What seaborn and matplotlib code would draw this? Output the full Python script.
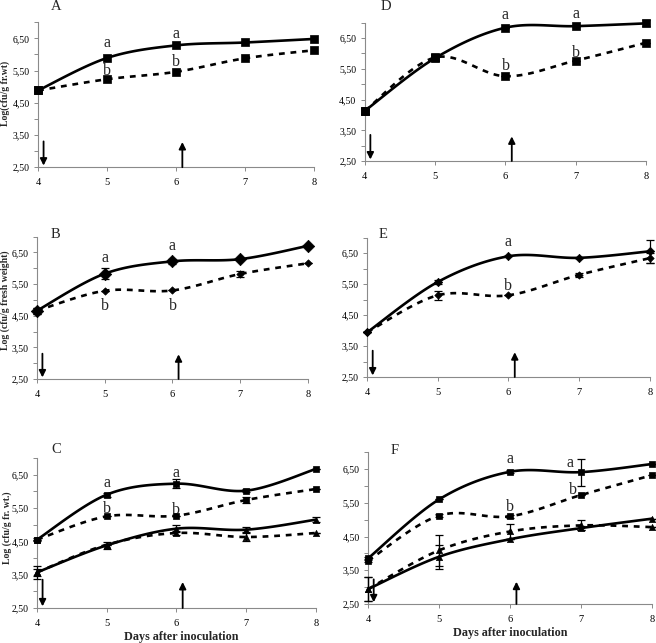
import numpy as np
import pandas as pd
import matplotlib
matplotlib.use("Agg")
import matplotlib.pyplot as plt
import seaborn as sns

sns.set_theme(style="white")
plt.rcParams['font.family'] = ['Liberation Serif', 'DejaVu Serif']

days = [4, 5, 6, 7, 8]
ytick_vals = [2.5, 3.0, 3.5, 4.0, 4.5, 5.0, 5.5, 6.0, 6.5, 7.0]
ytick_labels = ["2,50", "", "3,50", "", "4,50", "", "5,50", "", "6,50", ""]

# Panel A
A_solid = [4.88, 5.89, 6.28, 6.37, 6.48]
A_dash = [4.88, 5.23, 5.46, 5.88, 6.13]
# Panel D
D_solid = [4.13, 5.85, 6.84, 6.89, 6.98]
D_solid_err = [0.10, 0.10, 0.0, 0.0, 0.10]
D_dash = [4.13, 5.87, 5.26, 5.77, 6.35]
D_dash_err = [0.10, 0.12, 0.0, 0.0, 0.0]
# Panel B
B_solid = [4.66, 5.83, 6.22, 6.29, 6.71]
B_solid_err = [0.10, 0.17, 0.07, 0.0, 0.0]
B_dash = [4.66, 5.29, 5.30, 5.82, 6.16]
B_dash_err = [0.10, 0.0, 0.0, 0.10, 0.0]
# Panel E
E_solid = [3.94, 5.57, 6.40, 6.35, 6.56]
E_solid_err = [0.0, 0.05, 0.0, 0.0, 0.38]
E_dash = [3.94, 5.14, 5.14, 5.80, 6.34]
E_dash_err = [0.0, 0.14, 0.0, 0.07, 0.17]
# Panel C
C_solid_hi = [4.55, 5.90, 6.23, 6.02, 6.67]
C_solid_hi_err = [0.05, 0.06, 0.13, 0.04, 0.0]
C_dash_hi = [4.55, 5.25, 5.27, 5.74, 6.07]
C_dash_hi_err = [0.0, 0.0, 0.0, 0.08, 0.0]
C_solid_lo = [3.57, 4.38, 4.88, 4.85, 5.15]
C_solid_lo_err = [0.20, 0.10, 0.10, 0.08, 0.07]
C_dash_lo = [3.57, 4.40, 4.75, 4.63, 4.75]
C_dash_lo_err = [0.10, 0.0, 0.05, 0.13, 0.0]
# Panel F
F_solid_hi = [3.85, 5.60, 6.42, 6.41, 6.65]
F_solid_hi_err = [0.05, 0.0, 0.05, 0.40, 0.0]
F_dash_hi = [3.78, 5.12, 5.10, 5.73, 6.32]
F_dash_hi_err = [0.05, 0.05, 0.05, 0.0, 0.0]
F_solid_lo = [2.94, 3.90, 4.42, 4.75, 5.03]
F_solid_lo_err = [0.35, 0.35, 0.0, 0.05, 0.0]
F_dash_lo = [2.94, 4.09, 4.65, 4.83, 4.78]
F_dash_lo_err = [0.35, 0.45, 0.22, 0.15, 0.0]

zeros = [0, 0, 0, 0, 0]

W, H = 656, 643


def smooth(xs, ys, n=30):
    # Excel-like smoothed line (Catmull-Rom style Bezier)
    P = np.column_stack([xs, ys]).astype(float)
    P_ext = np.vstack([P[0], P, P[-1]])
    out = []
    t = np.linspace(0, 1, n)[:, None]
    for i in range(len(P) - 1):
        p0, p1, p2, p3 = P_ext[i], P_ext[i + 1], P_ext[i + 2], P_ext[i + 3]
        c1 = p1 + (p2 - p0) / 6.0
        c2 = p2 - (p3 - p1) / 6.0
        seg = ((1 - t) ** 3) * p1 + 3 * ((1 - t) ** 2) * t * c1 + 3 * (1 - t) * t ** 2 * c2 + t ** 3 * p2
        out.append(seg if i == 0 else seg[1:])
    s = np.vstack(out)
    return s[:, 0], s[:, 1]


def series(ax, ys, err, dashed, marker, ms):
    sx, sy = smooth(days, ys)
    df = pd.DataFrame({"x": sx, "y": sy})
    sns.lineplot(data=df, x="x", y="y", ax=ax, sort=False, estimator=None,
                 color="black", lw=1.9)
    ln = ax.lines[-1]
    if dashed:
        ln.set_dashes((2.2, 2.2))
    ln.set_clip_on(False)
    dfp = pd.DataFrame({"x": days, "y": ys})
    sns.scatterplot(data=dfp, x="x", y="y", ax=ax, marker=marker, s=ms, color="black",
                    edgecolor="black", linewidth=0.5, clip_on=False, zorder=5)
    if any(e > 0 for e in err):
        ax.errorbar(days, ys, yerr=err, fmt="none", ecolor="black", elinewidth=0.9,
                    capsize=3, capthick=0.9, clip_on=False, zorder=6)


def setup(ax, label, lpx, ylabel=None, ylab_pos=None, xlabel=False, xlab_x=0.5,
          arrows=(3.3, 3.28)):
    ax.set_xlim(4, 8)
    ax.set_ylim(2.5, 7.0)
    ax.set_xticks(days)
    ax.set_xticklabels([str(d) for d in days], fontsize=7.5)
    ax.set_yticks(ytick_vals)
    ax.set_yticklabels(ytick_labels, fontsize=7)
    for s in ["top", "right"]:
        ax.spines[s].set_visible(False)
    for s in ["left", "bottom"]:
        ax.spines[s].set_color("#8a8a8a")
        ax.spines[s].set_linewidth(0.8)
    ax.tick_params(axis="both", length=3, width=0.7, color="#8a8a8a", pad=3, direction="out",
                   labelcolor="black")
    ax.tick_params(axis="x", bottom=True, pad=5)
    ax.tick_params(axis="y", left=True)
    ax.set_xlabel("")
    ax.set_ylabel("")
    if ylabel:
        ax.set_ylabel(ylabel, fontsize=7, fontweight="bold")
        ax.yaxis.set_label_coords(*ylab_pos)
    if xlabel:
        ax.set_xlabel("Days after inoculation", fontsize=8.7, fontweight="bold")
        ax.xaxis.set_label_coords(xlab_x, -0.15)
    fig.text(lpx[0] / W, 1 - lpx[1] / H, label, fontsize=10.5, ha="left", va="center")
    ax.annotate("", xy=(4.08, 2.55), xytext=(4.08, arrows[0]),
                arrowprops=dict(arrowstyle="-|>", color="black", lw=1.3, mutation_scale=10,
                                shrinkA=0, shrinkB=0), annotation_clip=False)
    ax.annotate("", xy=(6.09, arrows[1]), xytext=(6.09, 2.5),
                arrowprops=dict(arrowstyle="-|>", color="black", lw=1.3, mutation_scale=10,
                                shrinkA=0, shrinkB=0), annotation_clip=False)


def letters(ax, items):
    for x, y, t in items:
        ax.text(x, y, t, fontsize=11.5, ha="center", va="center", clip_on=False)


fig = plt.figure(figsize=(6.56, 6.43), dpi=100)
axA = fig.add_axes([0.058, 0.740, 0.421, 0.2255])
axD = fig.add_axes([0.556, 0.7496, 0.429, 0.215])
axB = fig.add_axes([0.0564, 0.4106, 0.413, 0.2213])
axE = fig.add_axes([0.5595, 0.4137, 0.431, 0.2166])
axC = fig.add_axes([0.0564, 0.0544, 0.425, 0.2333])
axF = fig.add_axes([0.561, 0.0607, 0.433, 0.236])

# A
series(axA, A_solid, zeros, False, "s", 30)
series(axA, A_dash, zeros, True, "s", 30)
setup(axA, "A", (51, 6), ylabel="Log(cfu/g fr.wt)", ylab_pos=(-0.10, 0.51))
letters(axA, [(5, 6.34, "a"), (6, 6.62, "a"), (5, 5.48, "b"), (6, 5.75, "b")])

# D
series(axD, D_solid, D_solid_err, False, "s", 30)
series(axD, D_dash, D_dash_err, True, "s", 30)
setup(axD, "D", (381, 6), arrows=(3.35, 3.3))
letters(axD, [(6, 7.25, "a"), (7, 7.28, "a"), (6, 5.59, "b"), (7, 6.03, "b")])

# B
series(axB, B_solid, B_solid_err, False, "D", 40)
series(axB, B_dash, B_dash_err, True, "D", 14)
setup(axB, "B", (51, 234.5), ylabel="Log (cfu/g fresh weight)", ylab_pos=(-0.098, 0.556))
letters(axB, [(5, 6.34, "a"), (6, 6.72, "a"), (5, 4.8, "b"), (6, 4.8, "b")])

# E
series(axE, E_solid, E_solid_err, False, "D", 18)
series(axE, E_dash, E_dash_err, True, "D", 14)
setup(axE, "E", (379, 234.5), arrows=(3.35, 3.3))
letters(axE, [(6, 6.85, "a"), (6, 5.43, "b")])

# C
series(axC, C_solid_hi, C_solid_hi_err, False, "s", 14)
series(axC, C_dash_hi, C_dash_hi_err, True, "s", 14)
series(axC, C_solid_lo, C_solid_lo_err, False, "^", 20)
series(axC, C_dash_lo, C_dash_lo_err, True, "^", 20)
setup(axC, "C", (51, 449.5), ylabel="Log (cfu/g fr. wt.)", ylab_pos=(-0.088, 0.533),
      xlabel=True, xlab_x=0.516, arrows=(3.35, 3.28))
letters(axC, [(5, 6.25, "a"), (6, 6.55, "a"), (5, 5.47, "b"), (6, 5.44, "b")])

# F
series(axF, F_solid_hi, F_solid_hi_err, False, "s", 16)
series(axF, F_dash_hi, F_dash_hi_err, True, "s", 16)
series(axF, F_solid_lo, F_solid_lo_err, False, "^", 20)
series(axF, F_dash_lo, F_dash_lo_err, True, "^", 20)
setup(axF, "F", (391, 450), xlabel=True, xlab_x=0.5, arrows=(3.23, 3.16))
letters(axF, [(6, 6.79, "a"), (6.84, 6.68, "a"), (6, 5.39, "b"), (6.88, 5.88, "b")])

fig.savefig("out.png", dpi=100)
